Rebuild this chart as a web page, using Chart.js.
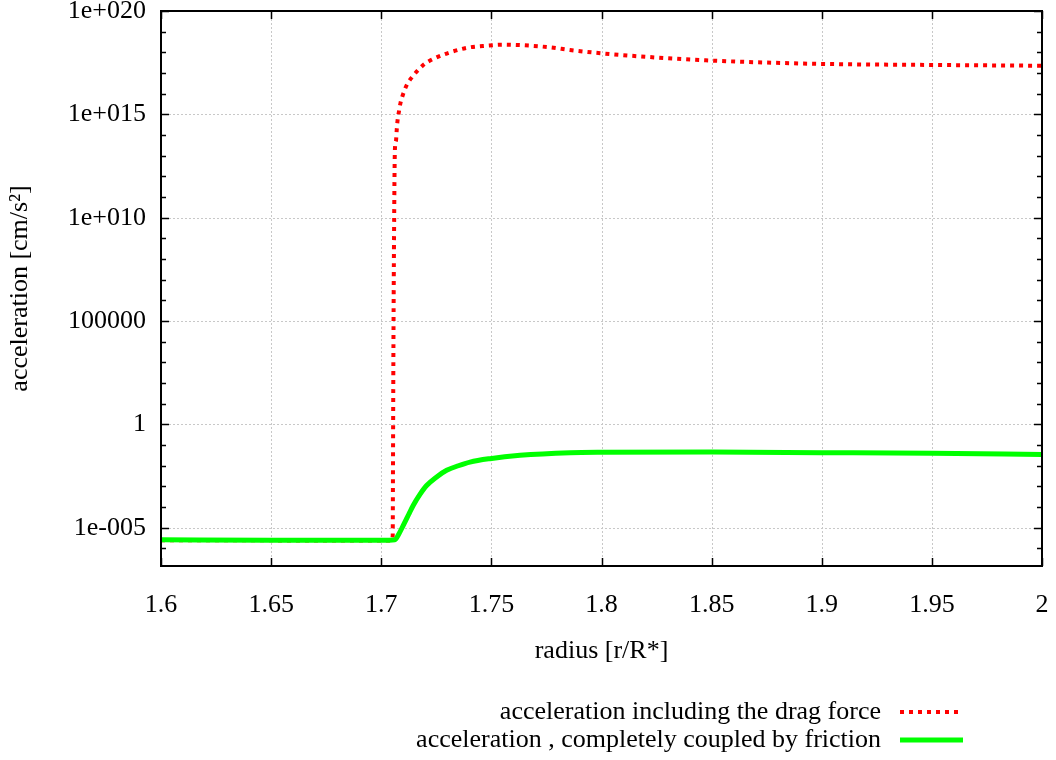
<!DOCTYPE html>
<html>
<head>
<meta charset="utf-8">
<script src="https://cdn.jsdelivr.net/npm/chart.js@4"></script>
<style>
  html, body { margin: 0; padding: 0; background: #fff; }
  #wrap { width: 1056px; height: 760px; }
</style>
</head>
<body>
<div id="wrap"><canvas id="chart" width="1056" height="760"></canvas></div>
<script>
// radius [r/R*] and acceleration [cm/s^2]
const dragRadius = [1.600, 1.650, 1.700, 1.7045, 1.7052, 1.7053, 1.7055, 1.7058, 1.7062, 1.7067,
  1.7070, 1.7074, 1.7080, 1.7088, 1.7100, 1.7115, 1.7138, 1.7168, 1.7198, 1.7236,
  1.7312, 1.7395, 1.7478, 1.7554, 1.7645, 1.7766, 1.7857, 1.800, 1.825, 1.850,
  1.875, 1.900, 1.950, 2.000];
const dragAccel = [2.5e-6, 2.45e-6, 2.4e-6, 2.4e-6, 4e-6, 1e-3, 1e3, 1e9, 2e13, 5.4e13,
  1.6e14, 5e14, 1.3e15, 3.8e15, 1e16, 2.5e16, 6e16, 1.4e17, 2.8e17, 4.8e17,
  1e18, 1.7e18, 2.1e18, 2.35e18, 2.2e18, 1.75e18, 1.3e18, 9e17, 5.6e17, 4e17,
  3.2e17, 2.75e17, 2.45e17, 2.25e17];

const coupledRadius = [1.600, 1.650, 1.700, 1.7062, 1.708, 1.710, 1.7125, 1.7145, 1.7175, 1.7206,
  1.725, 1.7297, 1.735, 1.7403, 1.7493, 1.763, 1.7857, 1.800, 1.850, 1.900, 1.950, 2.000];
const coupledAccel = [2.6e-6, 2.5e-6, 2.45e-6, 2.6e-6, 5e-6, 1.3e-5, 4.5e-5, 1.2e-4, 4e-4, 1.1e-3,
  2.8e-3, 6e-3, 0.01, 0.015, 0.022, 0.032, 0.043, 0.045, 0.046, 0.043, 0.04, 0.035];

const seriesNames = ['acceleration including the drag force', 'acceleration , completely coupled by friction'];
const xTicks = [1.6, 1.65, 1.7, 1.75, 1.8, 1.85, 1.9, 1.95, 2];
const yTicks = [1e-5, 1, 1e5, 1e10, 1e15, 1e20];
const yTickLabels = ['1e-005', '1', '100000', '1e+010', '1e+015', '1e+020'];
const yMinorTicks = [1e-6, 1e-4, 1e-3, 1e-2, 1e-1, 1e1, 1e2, 1e3, 1e4, 1e6, 1e7, 1e8, 1e9,
  1e11, 1e12, 1e13, 1e14, 1e16, 1e17, 1e18, 1e19];
const xTitle = 'radius [r/R*]';
const yTitle = 'acceleration [cm/s²]';

const FONT = 'Liberation Serif, Times New Roman, serif';
const FSIZE = 26;
const dragPoints = dragRadius.map((r, i) => ({ x: r, y: dragAccel[i] }));
const coupledPoints = coupledRadius.map((r, i) => ({ x: r, y: coupledAccel[i] }));

// gnuplot look: dotted grid, inward ticks on all four sides, box border
const framePlugin = {
  id: 'frame',
  beforeDatasetsDraw(chart) {
    const { ctx, chartArea: a, scales: { x, y } } = chart;
    ctx.save();
    ctx.strokeStyle = '#c8c8c8';
    ctx.lineWidth = 1;
    ctx.setLineDash([2, 2]);
    xTicks.forEach(v => {
      const px = Math.round(x.getPixelForValue(v)) + 0.5;
      ctx.beginPath(); ctx.moveTo(px, a.top); ctx.lineTo(px, a.bottom); ctx.stroke();
    });
    yTicks.forEach(v => {
      const py = Math.round(y.getPixelForValue(v)) + 0.5;
      ctx.beginPath(); ctx.moveTo(a.left, py); ctx.lineTo(a.right, py); ctx.stroke();
    });
    ctx.restore();
  },
  afterDatasetsDraw(chart) {
    const { ctx, chartArea: a, scales: { x, y } } = chart;
    ctx.save();
    ctx.strokeStyle = '#000';
    ctx.lineWidth = 1.5;
    ctx.setLineDash([]);
    xTicks.forEach(v => {
      const px = Math.round(x.getPixelForValue(v)) + 0.5;
      ctx.beginPath();
      ctx.moveTo(px, a.bottom); ctx.lineTo(px, a.bottom - 8);
      ctx.moveTo(px, a.top); ctx.lineTo(px, a.top + 8);
      ctx.stroke();
    });
    const yTick = (v, len) => {
      const py = Math.round(y.getPixelForValue(v)) + 0.5;
      ctx.beginPath();
      ctx.moveTo(a.left, py); ctx.lineTo(a.left + len, py);
      ctx.moveTo(a.right, py); ctx.lineTo(a.right - len, py);
      ctx.stroke();
    };
    yTicks.forEach(v => yTick(v, 8));
    yMinorTicks.forEach(v => yTick(v, 5));
    ctx.lineWidth = 2;
    ctx.strokeRect(a.left, a.top, a.right - a.left, a.bottom - a.top);

    // axis titles
    ctx.fillStyle = '#000';
    ctx.font = FSIZE + 'px ' + FONT;
    ctx.textAlign = 'center';
    ctx.textBaseline = 'middle';
    ctx.fillText(xTitle, (a.left + a.right) / 2, 651);
    ctx.save();
    ctx.translate(20, (a.top + a.bottom) / 2);
    ctx.rotate(-Math.PI / 2);
    ctx.fillText(yTitle, 0, 0);
    ctx.restore();

    // legend, text left of the line sample
    ctx.textAlign = 'right';
    const rows = [712, 740];
    chart.data.datasets.forEach((ds, i) => {
      ctx.fillStyle = '#000';
      ctx.fillText(seriesNames[i], 881, rows[i]);
      ctx.strokeStyle = ds.borderColor;
      ctx.lineWidth = ds.borderWidth;
      ctx.setLineDash(ds.borderDash || []);
      ctx.beginPath();
      ctx.moveTo(900, rows[i]); ctx.lineTo(963, rows[i]);
      ctx.stroke();
    });
    ctx.restore();
  }
};

new Chart(document.getElementById('chart'), {
  type: 'line',
  data: {
    datasets: [
      {
        label: seriesNames[0],
        data: dragPoints,
        borderColor: '#ff0000',
        borderWidth: 4,
        borderDash: [4, 5],
        pointRadius: 0,
        cubicInterpolationMode: 'monotone',
        fill: false,
        order: 2
      },
      {
        label: seriesNames[1],
        data: coupledPoints,
        borderColor: '#00ff00',
        borderWidth: 5,
        pointRadius: 0,
        cubicInterpolationMode: 'monotone',
        fill: false,
        order: 1
      }
    ]
  },
  options: {
    responsive: false,
    animation: false,
    layout: { padding: { left: 0, right: 14, top: 11, bottom: 0 } },
    plugins: { legend: { display: false }, tooltip: { enabled: false } },
    scales: {
      x: {
        type: 'linear',
        min: 1.6,
        max: 2,
        afterBuildTicks: s => { s.ticks = xTicks.map(v => ({ value: v })); },
        afterFit: s => { s.height = 760 - 566; s.paddingLeft = 0; s.paddingRight = 0; },
        grid: { display: false, drawTicks: false },
        border: { display: false },
        ticks: {
          padding: 24,
          color: '#000',
          font: { family: FONT, size: FSIZE },
          maxRotation: 0,
          callback: v => String(+v.toFixed(2))
        }
      },
      y: {
        type: 'logarithmic',
        min: 1.41e-7,
        max: 1e20,
        afterBuildTicks: s => { s.ticks = yTicks.map(v => ({ value: v })); },
        afterFit: s => { s.width = 161; s.paddingTop = 0; s.paddingBottom = 0; },
        grid: { display: false, drawTicks: false },
        border: { display: false },
        ticks: {
          padding: 15,
          color: '#000',
          font: { family: FONT, size: FSIZE },
          callback: (v) => yTickLabels[yTicks.indexOf(v)] ?? ''
        }
      }
    }
  },
  plugins: [framePlugin]
});
</script>
</body>
</html>
